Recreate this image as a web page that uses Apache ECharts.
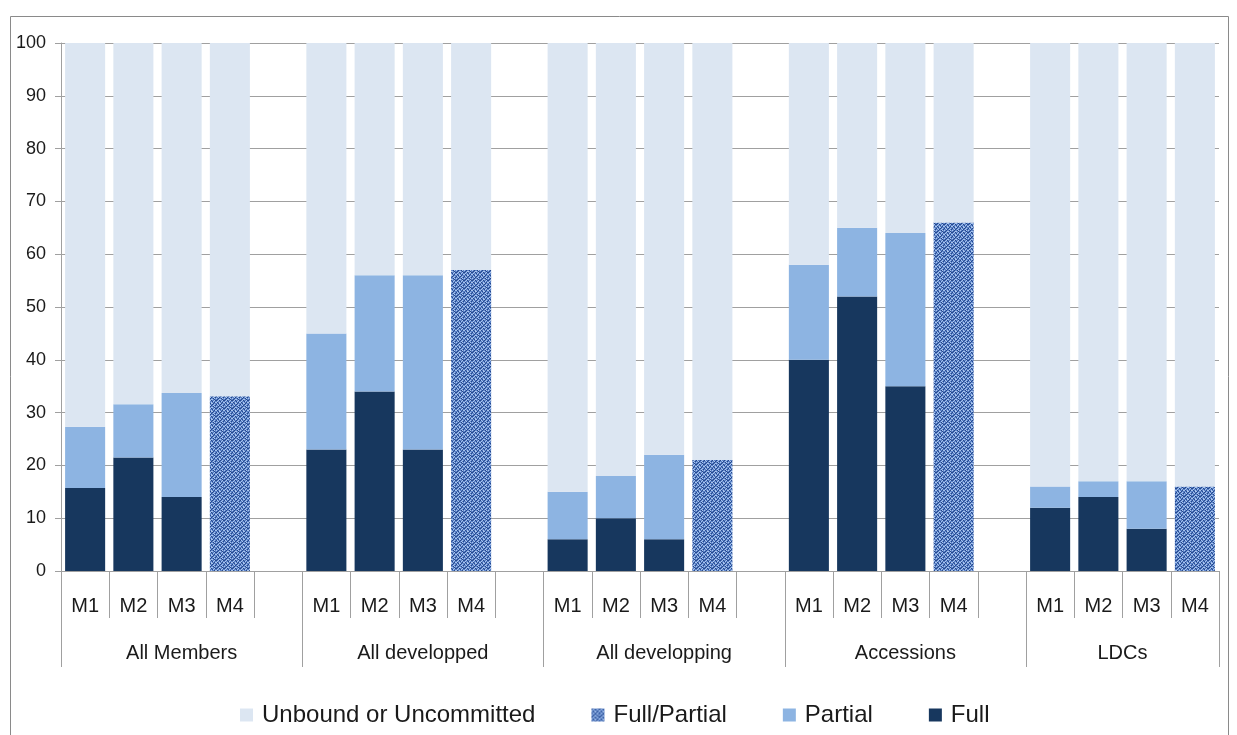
<!DOCTYPE html>
<html>
<head>
<meta charset="utf-8">
<script src="https://cdn.jsdelivr.net/npm/echarts@6/dist/echarts.min.js"></script>
<style>
  html, body { margin: 0; padding: 0; background: #ffffff; }
  #chart { width: 1237px; height: 735px; }
</style>
</head>
<body>
<div id="chart"></div>
<script>
// ---- data ----
const groups = ['All Members', 'All developped', 'All developping', 'Accessions', 'LDCs'];
const measures = ['M1', 'M2', 'M3', 'M4'];
const yTicks = [0, 10, 20, 30, 40, 50, 60, 70, 80, 90, 100];
const seriesNames = ['Full', 'Partial', 'Full/Partial', 'Unbound or Uncommitted'];
// per group: M1, M2, M3, M4
const fullValues = [15.7, 21.5, 14.0, null, 23, 34, 23, null, 6, 10, 6, null, 40, 52, 35, null, 12, 14, 8, null];
const partialValues = [11.6, 10.1, 19.7, null, 22, 22, 33, null, 9, 8, 16, null, 18, 13, 29, null, 4, 3, 9, null];
const fullPartialValues = [null, null, null, 33.1, null, null, null, 57, null, null, null, 21, null, null, null, 66, null, null, null, 16];
const unboundValues = [72.7, 68.4, 66.3, 66.9, 55, 44, 44, 43, 85, 82, 78, 79, 42, 35, 36, 34, 84, 83, 83, 84];

// ---- build category slots (a blank spacer slot between groups) ----
const categories = [];
const slotIndex = [];
const groupStart = [];
const groupEnd = [];
groups.forEach((g, gi) => {
  groupStart.push(categories.length);
  measures.forEach((m) => {
    slotIndex.push(categories.length);
    categories.push(g + '|' + m);
  });
  if (gi < groups.length - 1) categories.push(g + '|');
  groupEnd.push(categories.length);
});
function toSlots(arr) {
  const out = categories.map(() => null);
  arr.forEach((v, i) => { out[slotIndex[i]] = v; });
  return out;
}
const groupLabelPos = groups.map((g, gi) => (groupStart[gi] + groupEnd[gi]) / 2);
const groupBounds = [0].concat(groupEnd);

// ---- woven texture for Full/Partial ----
function makePattern() {
  const map = [
    'dmldmmld',
    'mlmmdlmm',
    'ldmlmmdl',
    'mmdlldmm',
    'dlmmdmlm',
    'mmldmlmd',
    'lmdmmdlm',
    'mdmllmdm'
  ];
  const col = { d: '#24478a', m: '#5a82c8', l: '#aac6ee' };
  const c = document.createElement('canvas');
  c.width = 8; c.height = 8;
  const ctx = c.getContext('2d');
  for (let y = 0; y < 8; y++) for (let x = 0; x < 8; x++) {
    ctx.fillStyle = col[map[y][x]];
    ctx.fillRect(x, y, 1, 1);
  }
  return c;
}
const pattern = { image: makePattern(), repeat: 'repeat' };

const FONT = '"Liberation Sans", Arial, sans-serif';
const colors = ['#17375e', '#8db4e2', pattern, '#dce6f2'];
const values = [fullValues, partialValues, fullPartialValues, unboundValues];

const chart = echarts.init(document.getElementById('chart'), null, { renderer: 'canvas' });
chart.setOption({
  animation: false,
  backgroundColor: '#ffffff',
  textStyle: { fontFamily: FONT },
  graphic: [{
    type: 'rect',
    shape: { x: 10.5, y: 16.5, width: 1218, height: 740 },
    style: { fill: 'none', stroke: '#8a8a8a', lineWidth: 1 },
    silent: true, z: -10
  }],
  grid: { left: 61, right: 18, top: 43, bottom: 164, containLabel: false },
  legend: {
    data: ['Unbound or Uncommitted', 'Full/Partial', 'Partial', 'Full'],
    left: 235,
    top: 698,
    itemWidth: 13,
    itemHeight: 13,
    itemGap: 56,
    icon: 'rect',
    textStyle: { fontFamily: FONT, fontSize: 24, color: '#1a1a1a', padding: [0, 0, 0, 4] }
  },
  xAxis: [{
    type: 'category',
    data: categories,
    position: 'bottom',
    axisLine: { show: true, lineStyle: { color: '#a0a0a0', width: 1 } },
    axisTick: { show: true, interval: 0, length: 47, lineStyle: { color: '#a0a0a0', width: 1 } },
    axisLabel: {
      interval: 0, margin: 25, fontSize: 20, color: '#1a1a1a', fontFamily: FONT,
      formatter: v => v.split('|')[1]
    },
    splitLine: { show: false }
  }, {
    type: 'value',
    min: 0,
    max: categories.length,
    position: 'bottom',
    axisLine: { show: false },
    splitLine: { show: false },
    axisTick: { show: true, length: 96, customValues: groupBounds, lineStyle: { color: '#a0a0a0', width: 1 } },
    axisLabel: {
      show: true, margin: 72, fontSize: 20, color: '#1a1a1a', fontFamily: FONT,
      customValues: groupLabelPos,
      formatter: v => {
        const i = groupLabelPos.findIndex(p => Math.abs(p - v) < 1e-6);
        return i >= 0 ? groups[i] : '';
      }
    }
  }],
  yAxis: {
    type: 'value',
    min: 0, max: 100, interval: 10,
    axisLine: { show: true, lineStyle: { color: '#a0a0a0', width: 1 } },
    axisTick: { show: true, length: 6, lineStyle: { color: '#a0a0a0', width: 1 } },
    axisLabel: { margin: 15, fontSize: 18, color: '#1a1a1a', fontFamily: FONT,
      customValues: yTicks },
    splitLine: { show: true, lineStyle: { color: '#a0a0a0', width: 1.2 } }
  },
  series: seriesNames.map((name, i) => ({
    name: name,
    type: 'bar',
    stack: 'total',
    xAxisIndex: 0,
    barCategoryGap: '17%',
    data: toSlots(values[i]),
    itemStyle: { color: colors[i] },
    emphasis: { disabled: true }
  }))
});
</script>
</body>
</html>
